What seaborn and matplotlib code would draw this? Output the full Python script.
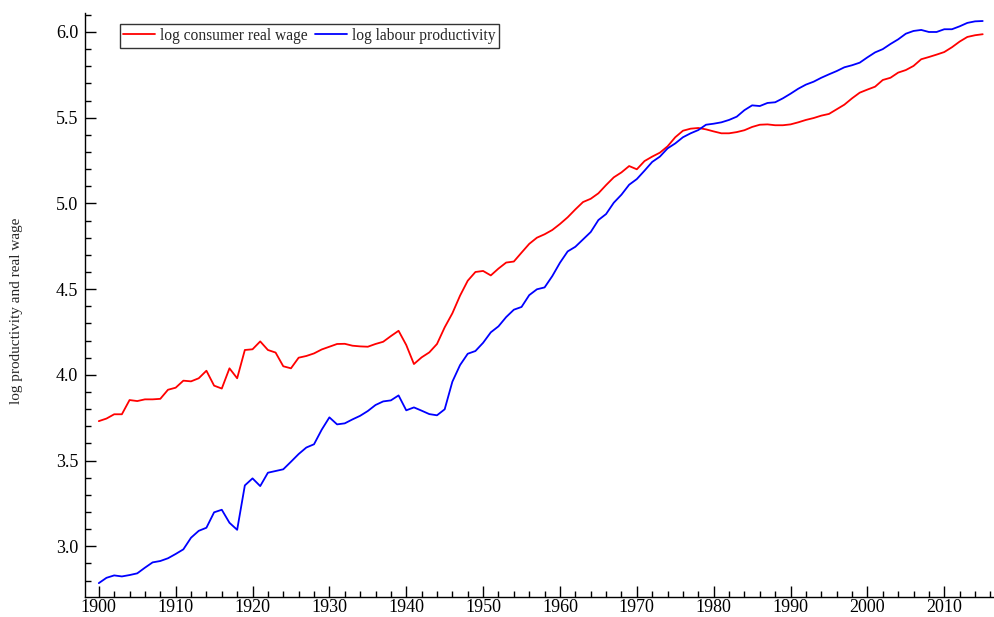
import numpy as np
import pandas as pd
import matplotlib
matplotlib.use("Agg")
import matplotlib.pyplot as plt
from matplotlib.ticker import MultipleLocator
import seaborn as sns

years = list(range(1900, 2016))

real_wage = [
    3.730, 3.745, 3.770, 3.770, 3.853, 3.847, 3.857, 3.857, 3.860, 3.913,
    3.925, 3.966, 3.962, 3.980, 4.024, 3.937, 3.920, 4.038, 3.980, 4.145,
    4.149, 4.195, 4.145, 4.130, 4.050, 4.038, 4.100, 4.110, 4.125, 4.148,
    4.164, 4.180, 4.181, 4.170, 4.166, 4.164, 4.180, 4.193, 4.226, 4.257,
    4.174, 4.063, 4.102, 4.131, 4.180, 4.277, 4.359, 4.462, 4.549, 4.600,
    4.606, 4.580, 4.620, 4.655, 4.661, 4.713, 4.764, 4.800, 4.820, 4.845,
    4.880, 4.919, 4.965, 5.008, 5.027, 5.059, 5.107, 5.152, 5.181, 5.218,
    5.199, 5.247, 5.273, 5.296, 5.333, 5.386, 5.424, 5.436, 5.440, 5.432,
    5.420, 5.409, 5.409, 5.416, 5.427, 5.446, 5.459, 5.461, 5.456, 5.456,
    5.461, 5.473, 5.487, 5.498, 5.512, 5.522, 5.549, 5.576, 5.613, 5.646,
    5.664, 5.681, 5.720, 5.733, 5.763, 5.778, 5.802, 5.841, 5.854, 5.868,
    5.883, 5.911, 5.944, 5.971, 5.981, 5.987,
]

productivity = [
    2.785, 2.816, 2.830, 2.824, 2.832, 2.842, 2.875, 2.906, 2.914, 2.930,
    2.955, 2.982, 3.050, 3.090, 3.108, 3.198, 3.213, 3.137, 3.096, 3.355,
    3.396, 3.351, 3.429, 3.439, 3.449, 3.493, 3.538, 3.576, 3.595, 3.680,
    3.752, 3.711, 3.717, 3.740, 3.761, 3.789, 3.824, 3.845, 3.851, 3.880,
    3.793, 3.810, 3.791, 3.771, 3.764, 3.799, 3.960, 4.057, 4.123, 4.139,
    4.187, 4.248, 4.283, 4.337, 4.380, 4.396, 4.465, 4.499, 4.510, 4.576,
    4.654, 4.720, 4.747, 4.790, 4.833, 4.903, 4.938, 5.004, 5.051, 5.109,
    5.142, 5.191, 5.242, 5.273, 5.321, 5.350, 5.386, 5.409, 5.428, 5.459,
    5.465, 5.473, 5.487, 5.506, 5.544, 5.572, 5.568, 5.586, 5.590, 5.613,
    5.640, 5.669, 5.693, 5.710, 5.733, 5.753, 5.772, 5.794, 5.806, 5.821,
    5.852, 5.881, 5.900, 5.930, 5.957, 5.990, 6.006, 6.012, 6.000, 6.000,
    6.016, 6.016, 6.033, 6.053, 6.062, 6.064,
]

series_names = ["log consumer real wage", "log labour productivity"]
series_colors = ["#ff0000", "#0000ff"]

df = pd.concat([
    pd.DataFrame({"year": years, "value": real_wage, "series": series_names[0]}),
    pd.DataFrame({"year": years, "value": productivity, "series": series_names[1]}),
])

sns.set_style("ticks")
plt.rcParams["font.family"] = ["Liberation Serif", "DejaVu Serif"]

fig = plt.figure(figsize=(9.95, 6.17), dpi=100)
ax = fig.add_axes([0.0854, 0.0324, 0.9146, 0.9466])

sns.lineplot(data=df, x="year", y="value", hue="series",
             palette=dict(zip(series_names, series_colors)),
             linewidth=1.3, ax=ax)

ax.set_xlim(1898.2, 2016.6)
ax.set_ylim(2.704, 6.111)
ax.xaxis.set_major_locator(MultipleLocator(10))
ax.xaxis.set_minor_locator(MultipleLocator(2))
ax.yaxis.set_major_locator(MultipleLocator(0.5))
ax.yaxis.set_minor_locator(MultipleLocator(0.1))
ax.yaxis.set_major_formatter(matplotlib.ticker.FormatStrFormatter("%.1f"))
ax.tick_params(which="major", direction="in", length=8, width=1, labelsize=13, colors="black")
ax.tick_params(which="minor", direction="in", length=4, width=1, colors="black")
ax.tick_params(axis="x", pad=1.5)
ax.tick_params(axis="y", pad=5)

for side in ["top", "right"]:
    ax.spines[side].set_visible(False)
for side in ["left", "bottom"]:
    ax.spines[side].set_color("black")
    ax.spines[side].set_linewidth(1)

ax.set_xlabel("")
ax.set_ylabel("log productivity and real wage", fontsize=11)
ax.yaxis.set_label_coords(-0.068, 0.49)

leg = ax.legend(loc="upper left", bbox_to_anchor=(0.038, 0.981), ncol=2,
                fontsize=11.2, frameon=True, fancybox=False, borderaxespad=0,
                handlelength=2.0, handletextpad=0.35, columnspacing=0.5,
                borderpad=0.25)
leg.get_frame().set_edgecolor("black")
leg.get_frame().set_linewidth(1)

fig.savefig("out.png", dpi=100)
